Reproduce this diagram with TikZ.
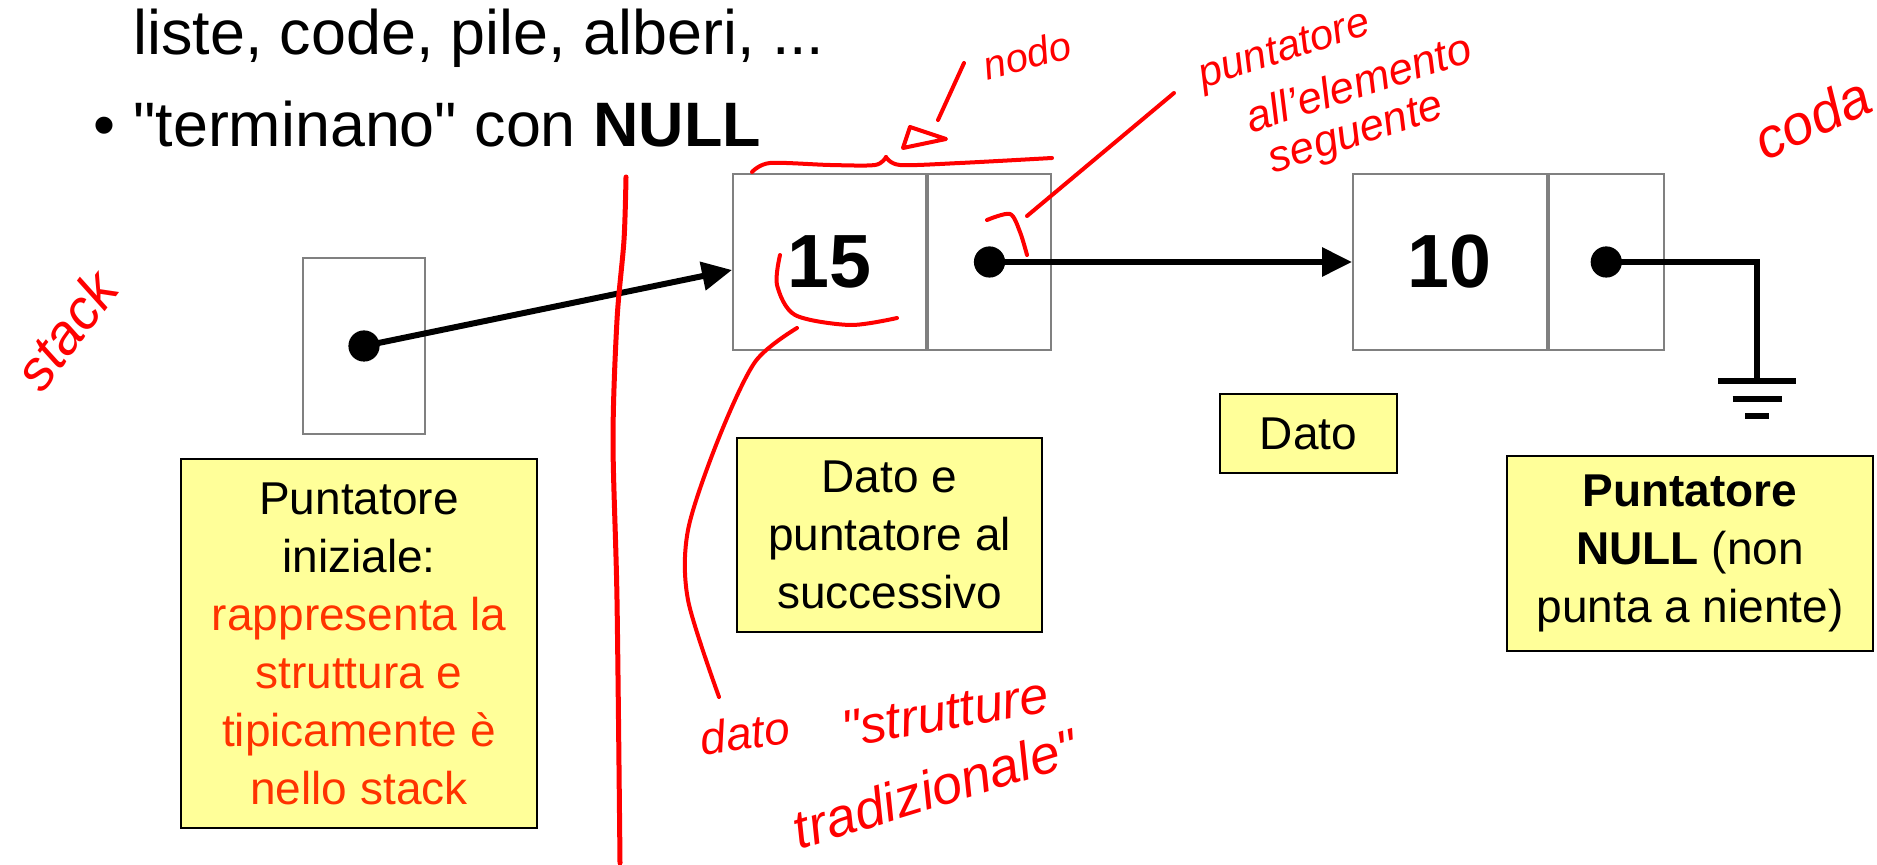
\documentclass[tikz,border=0pt]{standalone}
\usepackage{fontspec}
\setmainfont{Liberation Sans}
\usetikzlibrary{positioning,arrows.meta}
\definecolor{notefill}{HTML}{FFFF99}
\definecolor{notered}{HTML}{FF3300}
\definecolor{cellgray}{HTML}{808080}
% straight quotes, loaded without the TeX mapping
\font\quotefont="Liberation Sans" at 31.4pt
\font\handquote="Liberation Sans/I" at 26pt

\begin{document}
\begin{tikzpicture}[x=0.5pt, y=-0.5pt,
	cell/.style={draw=cellgray, line width=1pt, minimum height=88pt, inner sep=0pt, font=\bfseries\fontsize{37.7}{40}\selectfont},
	note/.style={draw, line width=1.2pt, fill=notefill, align=center, inner sep=0pt, font=\fontsize{23}{29}\selectfont},
	link/.style={line width=3pt, -{Triangle[length=15pt, width=14pt]}},
	ink/.style={red, line width=2pt, line cap=round, line join=round},
	hand/.style={text=red, inner sep=0pt, font=\itshape\fontsize{#1}{#1}\selectfont}]
		\useasboundingbox (0,0) rectangle (1877,865);
		% bullet text
		\node[anchor=base west, inner sep=0pt, font=\fontsize{31.4}{36}\selectfont] (line1) at (133,55) {liste, code, pile, alberi, ...};
		\node[anchor=base west, inner sep=0pt, font=\fontsize{31.4}{36}\selectfont] (line2) at (133,147) {\llap{•\hspace{9pt}}{\quotefont"}terminano{\quotefont"} con \textbf{NULL}};
		% list
		\node[cell, minimum width=61pt] (ptr) at (364,346) {};
		\node[cell, minimum width=96.5pt] (d15) at (829.5,262) {15};
		\node[cell, minimum width=61.5pt, right=0pt of d15] (p15) {};
		\node[cell, minimum width=96.75pt, right=150pt of p15] (d10) {10};
		\node[cell, minimum width=57.75pt, right=0pt of d10] (p10) {};
		\coordinate (gnd) at (1757,381);
		\draw[link] (ptr.center) -- ([yshift=-4pt]d15.west);
		\draw[link] (p15.center) -- (d10.west);
		\draw[line width=3pt] (p10.center) -| (gnd);
		\draw[line width=3pt] ([xshift=-19.5pt]gnd) -- ([xshift=19.5pt]gnd);
		\draw[line width=3pt] ([xshift=-12.25pt, yshift=-9pt]gnd) -- ([xshift=12.25pt, yshift=-9pt]gnd);
		\draw[line width=3pt] ([xshift=-6pt, yshift=-17.5pt]gnd) -- ([xshift=6pt, yshift=-17.5pt]gnd);
		\fill (ptr.center) circle[radius=7.8pt];
		\fill (p15.center) circle[radius=7.8pt];
		\fill (p10.center) circle[radius=7.8pt];
		% notes
		\node[note, minimum width=178pt, minimum height=184.5pt] (start) at (359,643.5) {Puntatore\\iniziale:\\\textcolor{notered}{rappresenta la}\\\textcolor{notered}{struttura e}\\\textcolor{notered}{tipicamente è}\\\textcolor{notered}{nello stack}};
		\node[note, minimum width=152.5pt, minimum height=97pt] (both) at (889.5,535) {Dato e\\puntatore al\\successivo};
		\node[note, minimum width=88.5pt, minimum height=39.5pt] (data) at (1308.5,433.5) {Dato};
		\node[note, minimum width=183pt, minimum height=97.5pt] (null) at (1690,553.5) {\textbf{Puntatore}\\\textbf{NULL} (non\\punta a niente)};
		% handwritten marks
		\draw[ink, line width=2.5pt] plot[smooth] coordinates {(626,177) (624,240) (617,320) (613,440) (617,600) (620,863)};
		\draw[ink] plot[smooth] coordinates {(752,172) (770,163) (830,165) (875,165) (886,157)};
		\draw[ink] plot[smooth] coordinates {(886,157) (900,165) (960,163) (1052,158)};
		\draw[ink] (903,148) -- (910,127) -- (946,139) -- cycle;
		\draw[ink] (938,120) -- (964,63);
		\draw[ink] (1174,93) -- (1027,216);
		\draw[ink] plot[smooth] coordinates {(987,220) (1010,214) (1020,232) (1027,255)};
		\draw[ink] plot[smooth] coordinates {(780,255) (777,285) (795,315) (850,325) (897,318)};
		\draw[ink] plot[smooth] coordinates {(797,328) (755,362) (718,440) (688,530) (688,600) (719,697)};
		\node[hand=20, rotate=15] (nodo) at (1027,55) {nodo};
		\node[hand=21, rotate=18] (next1) at (1285,52) {puntatore};
		\node[hand=22, rotate=18] (next2) at (1358,82) {all'elemento};
		\node[hand=22, rotate=18] (next3) at (1357,136) {seguente};
		\node[hand=28, rotate=25] (coda) at (1812,118) {coda};
		\node[hand=28, rotate=53] (stack) at (66,330) {stack};
		\node[hand=23, rotate=8] (dato) at (745,733) {dato};
		\node[hand=26, rotate=10] (trad1) at (945,712) {{\handquote"}strutture};
		\node[hand=27, rotate=17] (trad2) at (935,788) {tradizionale{\handquote"}};
	\end{tikzpicture}
\end{document}
